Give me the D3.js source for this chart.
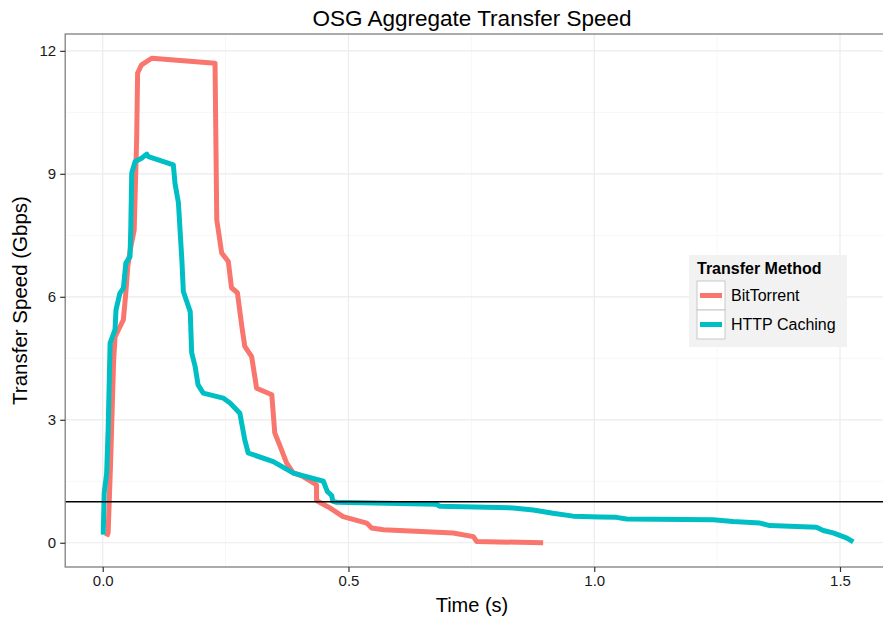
<!DOCTYPE html>
<html>
<head>
<meta charset="utf-8">
<script src="https://cdn.jsdelivr.net/npm/d3@7"></script>
<style>
  body { margin: 0; background: #fff; }
  svg { display: block; font-family: "Liberation Sans", Arial, sans-serif; }
</style>
</head>
<body>
<svg id="chart" width="883" height="621"></svg>
<script>
// BitTorrent series: time (s), speed (Gbps)
const btTime = [0.008, 0.011, 0.016, 0.022, 0.025, 0.042, 0.047, 0.051, 0.056, 0.064, 0.069, 0.071, 0.079, 0.0997,
  0.2285, 0.232, 0.242, 0.2555, 0.262, 0.274, 0.283, 0.289, 0.303, 0.313, 0.344, 0.350, 0.361, 0.374, 0.387,
  0.407, 0.435, 0.435, 0.462, 0.489, 0.537, 0.547, 0.571, 0.713, 0.754, 0.761, 0.896];
const btSpeed = [0.15, 0.24, 1.95, 4.39, 5.02, 5.44, 6.10, 6.74, 7.15, 7.63, 9.83, 11.46, 11.66, 11.82,
  11.70, 7.88, 7.07, 6.86, 6.22, 6.10, 5.28, 4.79, 4.54, 3.77, 3.61, 2.68, 2.35, 1.95, 1.71,
  1.62, 1.41, 1.03, 0.85, 0.64, 0.48, 0.36, 0.32, 0.24, 0.15, 0.03, 0.0];

// HTTP Caching series
const httpTime = [0.001, 0.003, 0.008, 0.011, 0.015, 0.025, 0.027, 0.035, 0.042, 0.047, 0.0555, 0.057, 0.059,
  0.066, 0.079, 0.0895, 0.093, 0.1436, 0.147, 0.154, 0.161, 0.164, 0.178, 0.181, 0.188, 0.194, 0.2046,
  0.245, 0.259, 0.279, 0.289, 0.296, 0.347, 0.388, 0.449, 0.457, 0.466, 0.468, 0.476, 0.679, 0.686,
  0.835, 0.876, 0.916, 0.957, 1.011, 1.045, 1.066, 1.242, 1.282, 1.337, 1.357, 1.452, 1.466, 1.486,
  1.513, 1.527];
const httpSpeed = [0.2, 1.21, 1.70, 2.76, 4.87, 5.20, 5.68, 6.09, 6.21, 6.82, 6.98, 7.63, 9.02,
  9.30, 9.38, 9.48, 9.42, 9.22, 8.77, 8.29, 6.90, 6.13, 5.64, 4.63, 4.30, 3.85, 3.65,
  3.53, 3.41, 3.16, 2.51, 2.19, 1.98, 1.70, 1.50, 1.25, 1.15, 1.01, 0.99, 0.94, 0.89,
  0.85, 0.80, 0.72, 0.65, 0.63, 0.62, 0.58, 0.56, 0.52, 0.48, 0.42, 0.38, 0.30, 0.24,
  0.12, 0.02];

const methods = ["BitTorrent", "HTTP Caching"];
const colors = ["#F8766D", "#00BFC4"];
const xTicks = [0, 0.5, 1.0, 1.5];
const xMinor = [0.25, 0.75, 1.25];
const yTicks = [0, 3, 6, 9, 12];
const yMinor = [1.5, 4.5, 7.5, 10.5];
const refLine = 1;

const series = [
  btTime.map((t, i) => ({ t, v: btSpeed[i] })),
  httpTime.map((t, i) => ({ t, v: httpSpeed[i] }))
];

const svg = d3.select("#chart");
// panel runs past the right edge of the picture, as in the original
const panel = { left: 65.2, top: 34, right: 890.8, bottom: 567 };

const xMax = d3.max(series.flat(), d => d.t);
const yMax = d3.max(series.flat(), d => d.v);
const xPad = xMax * 0.05, yPad = yMax * 0.05;

const x = d3.scaleLinear().domain([-xPad, xMax + xPad]).range([panel.left, panel.right]);
const y = d3.scaleLinear().domain([-yPad, yMax + yPad]).range([panel.bottom, panel.top]);

svg.append("defs").append("clipPath").attr("id", "clip")
  .append("rect")
  .attr("x", panel.left).attr("y", panel.top)
  .attr("width", panel.right - panel.left).attr("height", panel.bottom - panel.top);

svg.append("rect")
  .attr("x", panel.left).attr("y", panel.top)
  .attr("width", panel.right - panel.left).attr("height", panel.bottom - panel.top)
  .attr("fill", "#fff");

const grid = svg.append("g");
grid.selectAll(".xminor").data(xMinor).enter().append("line")
  .attr("x1", d => x(d)).attr("x2", d => x(d))
  .attr("y1", panel.top).attr("y2", panel.bottom)
  .attr("stroke", "#f7f7f7").attr("stroke-width", 1);
grid.selectAll(".yminor").data(yMinor).enter().append("line")
  .attr("y1", d => y(d)).attr("y2", d => y(d))
  .attr("x1", panel.left).attr("x2", panel.right)
  .attr("stroke", "#f7f7f7").attr("stroke-width", 1);
grid.selectAll(".xmajor").data(xTicks).enter().append("line")
  .attr("x1", d => x(d)).attr("x2", d => x(d))
  .attr("y1", panel.top).attr("y2", panel.bottom)
  .attr("stroke", "#ebebeb").attr("stroke-width", 1.2);
grid.selectAll(".ymajor").data(yTicks).enter().append("line")
  .attr("y1", d => y(d)).attr("y2", d => y(d))
  .attr("x1", panel.left).attr("x2", panel.right)
  .attr("stroke", "#ebebeb").attr("stroke-width", 1.2);

// data lines
const line = d3.line().x(d => x(d.t)).y(d => y(d.v));
const lines = svg.append("g").attr("clip-path", "url(#clip)");
series.forEach((s, i) => {
  lines.append("path")
    .datum(s)
    .attr("d", line)
    .attr("fill", "none")
    .attr("stroke", colors[i])
    .attr("stroke-width", 5)
    .attr("stroke-linejoin", "round")
    .attr("stroke-linecap", "butt");
});

// reference line at 1 Gbps
svg.append("line")
  .attr("x1", panel.left).attr("x2", panel.right)
  .attr("y1", y(refLine)).attr("y2", y(refLine))
  .attr("stroke", "#000").attr("stroke-width", 1.4);

// panel border
svg.append("rect")
  .attr("x", panel.left).attr("y", panel.top)
  .attr("width", panel.right - panel.left).attr("height", panel.bottom - panel.top)
  .attr("fill", "none").attr("stroke", "#7f7f7f").attr("stroke-width", 1.3);

// axes
const xAxis = svg.append("g")
  .attr("transform", `translate(0,${panel.bottom})`)
  .call(d3.axisBottom(x).tickValues(xTicks).tickFormat(d3.format(".1f")).tickSize(5).tickSizeOuter(0));
const yAxis = svg.append("g")
  .attr("transform", `translate(${panel.left},0)`)
  .call(d3.axisLeft(y).tickValues(yTicks).tickFormat(d3.format("d")).tickSize(5).tickSizeOuter(0));

[xAxis, yAxis].forEach(a => {
  a.select(".domain").remove();
  a.selectAll(".tick line").attr("stroke", "#333").attr("stroke-width", 1.2);
  a.selectAll(".tick text")
    .attr("fill", "#1a1a1a")
    .style("font-family", "'Liberation Sans', Arial, sans-serif")
    .style("font-size", "15px");
});
xAxis.selectAll(".tick text").attr("dy", "0.71em").attr("y", 8);
yAxis.selectAll(".tick text").attr("x", -9);

// titles
svg.append("text")
  .attr("x", 472).attr("y", 26)
  .attr("text-anchor", "middle")
  .attr("font-size", 22.5).attr("fill", "#000")
  .text("OSG Aggregate Transfer Speed");

svg.append("text")
  .attr("x", 472).attr("y", 612)
  .attr("text-anchor", "middle")
  .attr("font-size", 20).attr("fill", "#000")
  .text("Time (s)");

svg.append("text")
  .attr("transform", `translate(27,${(panel.top + panel.bottom) / 2}) rotate(-90)`)
  .attr("text-anchor", "middle")
  .attr("font-size", 20.5).attr("fill", "#000")
  .text("Transfer Speed (Gbps)");

// legend
const legend = svg.append("g").attr("transform", "translate(689,255)");
legend.append("rect")
  .attr("width", 158).attr("height", 92)
  .attr("fill", "#f2f2f2");
legend.append("text")
  .attr("x", 8).attr("y", 19)
  .attr("font-size", 16).attr("font-weight", "bold").attr("fill", "#000")
  .text("Transfer Method");

const keys = legend.selectAll(".key").data(methods).enter().append("g")
  .attr("transform", (d, i) => `translate(8,${26 + i * 29})`);
keys.append("rect")
  .attr("width", 28).attr("height", 29)
  .attr("fill", "#fff").attr("stroke", "#c8c8c8").attr("stroke-width", 1);
keys.append("line")
  .attr("x1", 3).attr("x2", 25).attr("y1", 14.5).attr("y2", 14.5)
  .attr("stroke", (d, i) => colors[i]).attr("stroke-width", 5);
keys.append("text")
  .attr("x", 34).attr("y", 20)
  .attr("font-size", 16).attr("fill", "#000")
  .text(d => d);
</script>
</body>
</html>
